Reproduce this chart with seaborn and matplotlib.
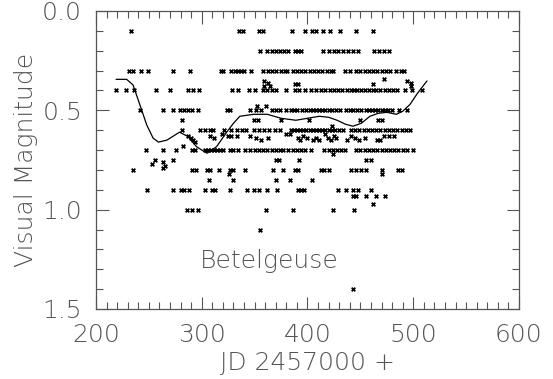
import numpy as np
import pandas as pd
import matplotlib
matplotlib.use("Agg")
import matplotlib.pyplot as plt
import seaborn as sns
from matplotlib.ticker import MultipleLocator

# ---- data: observations on the 0.1-mag grid (JD - 2457000) ----
row_mags = [0.1, 0.2, 0.3, 0.4, 0.5, 0.55, 0.6, 0.7, 0.8, 0.85, 0.9, 0.93, 1.0]
jd_01 = [233, 335, 339, 354, 358, 385, 398, 404, 408, 415, 421, 431, 446, 462]
jd_02 = [355, 362, 366, 370, 374, 378, 382, 388, 391, 394, 415, 420, 425, 429,
         434, 438, 443, 448, 463, 468, 472, 477]
jd_03 = [231, 235, 243, 249, 273, 289, 318, 320, 328, 331, 334, 337, 340, 347,
         358, 363, 366, 370, 375, 379, 381, 386, 390, 394, 398, 402, 406, 410,
         414, 418, 422, 424, 435, 440, 446, 450, 454, 458, 462, 466, 470, 474,
         478, 484, 488, 491]
jd_04 = [219, 228, 236, 257, 270, 287, 292, 297, 329, 334, 345, 350, 358, 362,
         366, 370, 380, 388, 392, 398, 403, 408, 413, 417, 421, 425, 429, 433,
         437, 441, 444, 447, 451, 454, 458, 462, 465, 469, 473, 477, 481, 485,
         492, 499, 508]
jd_05 = [242, 263, 273, 279, 283, 287, 291, 296, 324, 327, 346, 351, 356, 366,
         370, 374, 380, 384, 387, 390, 395, 399, 402, 405, 408, 411, 414, 417,
         420, 423, 427, 431, 436, 440, 443, 447, 451, 455, 458, 461, 464, 467,
         470, 473, 476, 480, 487, 494]
jd_055 = [281, 349, 353, 375, 401, 450, 467, 470]
jd_06 = [281, 298, 303, 308, 311, 321, 328, 333, 338, 342, 349, 354, 359, 364,
         369, 374, 384, 387, 390, 393, 396, 399, 402, 405, 408, 411, 414, 417,
         420, 423, 426, 430, 434, 441, 445, 449, 453, 457, 461, 465, 469, 473,
         477, 481, 485, 489, 493, 497]
jd_07 = [247, 263, 276, 291, 294, 303, 306, 309, 312, 314, 317, 320, 327, 330,
         334, 341, 346, 350, 354, 358, 362, 366, 370, 374, 377, 382, 386, 390,
         394, 398, 403, 416, 420, 424, 428, 432, 435, 446, 450, 454, 458, 462,
         466, 470, 474, 478, 482, 486, 490, 494, 500]
jd_08 = [235, 291, 295, 305, 308, 316, 327, 330, 341, 367, 377, 388, 391, 413,
         416, 420, 441, 446, 451, 455, 470, 486, 489]
jd_085 = [307, 330, 370, 383, 404]
jd_09 = [248, 273, 280, 283, 288, 303, 310, 313, 327, 343, 349, 354, 362, 371,
         391, 394, 397, 429, 436, 443, 448, 460]
jd_093 = [443, 446, 455, 465, 473]
jd_10 = [286, 291, 296, 361, 386, 424, 444]
row_jds = [jd_01, jd_02, jd_03, jd_04, jd_05, jd_055, jd_06, jd_07, jd_08,
           jd_085, jd_09, jd_093, jd_10]

# ---- off-grid observations ----
extra_jd = [359, 359, 363, 365, 388, 391, 462, 472, 494, 498, 498, 352, 361,
            423, 287, 290, 292, 294, 282, 308, 312, 319, 325, 328, 333, 346,
            351, 356, 363, 380, 383, 391, 393, 396, 400, 405, 408, 411, 417,
            419, 422, 425, 427, 437, 441, 445, 449, 454, 466, 469, 472, 477,
            482, 424, 256, 263, 253, 273, 263, 265, 370, 373, 392, 455, 460,
            326, 470, 462, 355, 443]
extra_mag = [0.35, 0.38, 0.36, 0.38, 0.37, 0.37, 0.37, 0.34, 0.35, 0.36, 0.38,
             0.48, 0.48, 0.58, 0.63, 0.64, 0.65, 0.66, 0.68, 0.63, 0.64, 0.62,
             0.63, 0.63, 0.63, 0.63, 0.64, 0.65, 0.64, 0.62, 0.62, 0.64, 0.65,
             0.63, 0.64, 0.65, 0.64, 0.65, 0.62, 0.64, 0.65, 0.63, 0.64, 0.65,
             0.63, 0.64, 0.65, 0.64, 0.65, 0.65, 0.63, 0.63, 0.63, 0.72, 0.75,
             0.76, 0.77, 0.75, 0.79, 0.78, 0.75, 0.75, 0.75, 0.75, 0.75, 0.82,
             0.82, 0.97, 1.1, 1.4]

# ---- smoothed curve ----
curve_jd = [219, 229, 235, 242, 248, 254, 259, 267, 273, 279, 287, 295, 305,
            314, 324, 330, 336, 349, 362, 375, 389, 400, 411, 420, 428, 436,
            443, 451, 459, 467, 475, 484, 490, 497, 504, 513]
curve_mag = [0.344, 0.344, 0.372, 0.48, 0.574, 0.64, 0.66, 0.65, 0.63, 0.61,
             0.632, 0.683, 0.716, 0.683, 0.607, 0.565, 0.53, 0.52, 0.52, 0.54,
             0.55, 0.54, 0.53, 0.535, 0.55, 0.57, 0.58, 0.565, 0.53, 0.515,
             0.51, 0.52, 0.505, 0.47, 0.414, 0.352]

label_text = "Betelgeuse"

# ---- build frames ----
obs_jd, obs_mag = [], []
for m, xs in zip(row_mags, row_jds):
    obs_jd += xs
    obs_mag += [m] * len(xs)
obs_jd += extra_jd
obs_mag += extra_mag
obs = pd.DataFrame({"jd": obs_jd, "mag": obs_mag})
curve = pd.DataFrame({"jd": curve_jd, "mag": curve_mag})

sns.set_theme(style="white")
plt.rcParams['font.family'] = ['DejaVu Sans']
txt_color = "#555555"
fs = 18

fig = plt.figure(figsize=(5.53, 3.79), dpi=100)
ax = fig.add_axes([0.1736, 0.1847, 0.9385 - 0.1736, 0.971 - 0.1847])

sns.scatterplot(data=obs, x="jd", y="mag", marker="x", s=7, linewidth=1.3,
                color="black", ax=ax, legend=False, zorder=3)
sns.lineplot(data=curve, x="jd", y="mag", color="black", linewidth=0.9,
             ax=ax, legend=False, sort=False, estimator=None, zorder=4)

ax.set_xlim(200, 600)
ax.set_ylim(1.5, 0.0)
ax.xaxis.set_major_locator(MultipleLocator(100))
ax.xaxis.set_minor_locator(MultipleLocator(10))
ax.yaxis.set_major_locator(MultipleLocator(0.5))
ax.yaxis.set_minor_locator(MultipleLocator(0.1))
ax.set_xticks([200, 300, 400, 500, 600])
ax.set_xticklabels(["200", "300", "400", "500", "600"])
ax.set_yticks([0.0, 0.5, 1.0, 1.5])
ax.set_yticklabels(["0.0", "0.5", "1.0", "1.5"])
ax.set_xlim(200, 600)
ax.set_ylim(1.5, 0.0)

ax.tick_params(which="both", direction="in", top=True, right=True,
               bottom=True, left=True, color="#555555", width=0.8,
               labelsize=fs, labelcolor=txt_color)
ax.tick_params(which="major", length=9, pad=10)
ax.tick_params(which="minor", length=5)
for lab in ax.get_xticklabels() + ax.get_yticklabels():
    lab.set_fontweight("ultralight")
for sp in ax.spines.values():
    sp.set_color("#555555")
    sp.set_linewidth(0.9)

ax.set_xlabel("JD 2457000 +", fontsize=fs, color=txt_color,
              fontweight="ultralight", labelpad=3)
ax.set_ylabel("Visual Magnitude", fontsize=fs, color=txt_color,
              fontweight="ultralight", labelpad=3)
ax.text(298, 1.26, label_text, fontsize=fs, color=txt_color,
        fontweight="ultralight", ha="left", va="center")

fig.savefig("out.png", dpi=100)
